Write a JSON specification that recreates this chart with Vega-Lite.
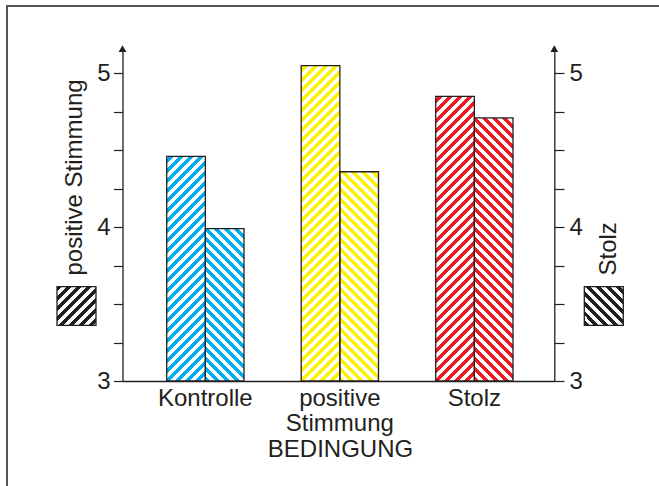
{
  "$schema": "https://vega.github.io/schema/vega-lite/v6.json",
  "width": 652,
  "height": 480,
  "autosize": {"type": "none"},
  "padding": {"left": 7, "top": 6, "right": 0, "bottom": 0},
  "background": "#ffffff",
  "config": {
    "view": {"stroke": "#555555", "strokeWidth": 2, "strokeDash": [652, 1132, 480]},
    "font": "Liberation Sans",
    "axis": {
      "grid": false,
      "domainColor": "#231f20",
      "domainWidth": 1.3,
      "tickColor": "#231f20",
      "tickWidth": 1.2,
      "labelFont": "Liberation Sans",
      "labelFontSize": 24,
      "labelColor": "#231f20",
      "titleFont": "Liberation Sans",
      "titleFontSize": 24,
      "titleFontWeight": "normal",
      "titleColor": "#231f20",
      "labelOverlap": false,
      "labelBound": false,
      "zindex": 1
    }
  },
  "data": {
    "values": [
      {"Bedingung": "Kontrolle", "Skala": "positive Stimmung", "Wert": 4.46},
      {"Bedingung": "Kontrolle", "Skala": "Stolz", "Wert": 3.99},
      {"Bedingung": "positive Stimmung", "Skala": "positive Stimmung", "Wert": 5.05},
      {"Bedingung": "positive Stimmung", "Skala": "Stolz", "Wert": 4.36},
      {"Bedingung": "Stolz", "Skala": "positive Stimmung", "Wert": 4.85},
      {"Bedingung": "Stolz", "Skala": "Stolz", "Wert": 4.71}
    ]
  },
  "layer": [
    {
      "encoding": {
        "x": {
          "field": "Bedingung",
          "type": "nominal",
          "sort": ["Kontrolle", "positive Stimmung", "Stolz"],
          "scale": {"range": [115.5, 547.3], "paddingInner": 0.4253, "paddingOuter": 0.3178, "align": 0.517},
          "axis": {
            "orient": "bottom",
            "offset": -105,
            "ticks": false,
            "tickSize": 0,
            "labelAngle": 0,
            "labelPadding": 5.5,
            "labelLineHeight": 24.5,
            "labelExpr": "datum.value == 'positive Stimmung' ? ['positive', 'Stimmung'] : datum.label",
            "title": "BEDINGUNG",
            "titleX": 333,
            "titleY": 75.7,
            "titleAlign": "center",
            "titleBaseline": "alphabetic"
          }
        },
        "xOffset": {
          "field": "Skala",
          "type": "nominal",
          "sort": ["positive Stimmung", "Stolz"],
          "scale": {"paddingInner": 0, "paddingOuter": 0}
        }
      },
      "layer": [
        {
          "mark": {"type": "bar", "strokeWidth": 0},
          "encoding": {
            "y": {
              "field": "Wert",
              "type": "quantitative",
              "title": "positive Stimmung",
              "scale": {"domain": [3, 5.16], "range": [375, 42.7], "nice": false, "zero": false},
              "axis": {
                "orient": "left",
                "offset": -115.5,
                "values": [3, 3.25, 3.5, 3.75, 4, 4.25, 4.5, 4.75, 5],
                "labelExpr": "datum.value % 1 === 0 ? format(datum.value, 'd') : ''",
                "tickSize": 9,
                "labelPadding": 3.5,
                "title": "positive Stimmung",
                "titleAngle": -90,
                "titleX": -41.5,
                "titleY": 269,
                "titleAlign": "left",
                "titleBaseline": "alphabetic"
              }
            },
            "y2": {"datum": 3},
            "fill": {
              "field": "Bedingung",
              "type": "nominal",
              "scale": {"domain": ["Kontrolle", "positive Stimmung", "Stolz"], "range": ["#00aeef", "#fff200", "#ed1c24"]},
              "legend": null
            }
          }
        },
        {
          "transform": [{"filter": "datum.Skala === 'positive Stimmung'"}],
          "mark": {
            "type": "bar",
            "strokeWidth": 0,
            "fill": {
              "gradient": "linear", "x1": 0, "y1": 0, "x2": 0.17268, "y2": 1.48458,
              "stops": [
{"offset":0,"color":"rgba(255,255,255,0)"},{"offset":0.0095,"color":"rgba(255,255,255,0)"},{"offset":0.0095,"color":"#fff"},{"offset":0.02,"color":"#fff"},
{"offset":0.02,"color":"rgba(255,255,255,0)"},{"offset":0.0295,"color":"rgba(255,255,255,0)"},{"offset":0.0295,"color":"#fff"},{"offset":0.04,"color":"#fff"},
{"offset":0.04,"color":"rgba(255,255,255,0)"},{"offset":0.0495,"color":"rgba(255,255,255,0)"},{"offset":0.0495,"color":"#fff"},{"offset":0.06,"color":"#fff"},
{"offset":0.06,"color":"rgba(255,255,255,0)"},{"offset":0.0695,"color":"rgba(255,255,255,0)"},{"offset":0.0695,"color":"#fff"},{"offset":0.08,"color":"#fff"},
{"offset":0.08,"color":"rgba(255,255,255,0)"},{"offset":0.0895,"color":"rgba(255,255,255,0)"},{"offset":0.0895,"color":"#fff"},{"offset":0.1,"color":"#fff"},
{"offset":0.1,"color":"rgba(255,255,255,0)"},{"offset":0.1095,"color":"rgba(255,255,255,0)"},{"offset":0.1095,"color":"#fff"},{"offset":0.12,"color":"#fff"},
{"offset":0.12,"color":"rgba(255,255,255,0)"},{"offset":0.1295,"color":"rgba(255,255,255,0)"},{"offset":0.1295,"color":"#fff"},{"offset":0.14,"color":"#fff"},
{"offset":0.14,"color":"rgba(255,255,255,0)"},{"offset":0.1495,"color":"rgba(255,255,255,0)"},{"offset":0.1495,"color":"#fff"},{"offset":0.16,"color":"#fff"},
{"offset":0.16,"color":"rgba(255,255,255,0)"},{"offset":0.1695,"color":"rgba(255,255,255,0)"},{"offset":0.1695,"color":"#fff"},{"offset":0.18,"color":"#fff"},
{"offset":0.18,"color":"rgba(255,255,255,0)"},{"offset":0.1895,"color":"rgba(255,255,255,0)"},{"offset":0.1895,"color":"#fff"},{"offset":0.2,"color":"#fff"},
{"offset":0.2,"color":"rgba(255,255,255,0)"},{"offset":0.2095,"color":"rgba(255,255,255,0)"},{"offset":0.2095,"color":"#fff"},{"offset":0.22,"color":"#fff"},
{"offset":0.22,"color":"rgba(255,255,255,0)"},{"offset":0.2295,"color":"rgba(255,255,255,0)"},{"offset":0.2295,"color":"#fff"},{"offset":0.24,"color":"#fff"},
{"offset":0.24,"color":"rgba(255,255,255,0)"},{"offset":0.2495,"color":"rgba(255,255,255,0)"},{"offset":0.2495,"color":"#fff"},{"offset":0.26,"color":"#fff"},
{"offset":0.26,"color":"rgba(255,255,255,0)"},{"offset":0.2695,"color":"rgba(255,255,255,0)"},{"offset":0.2695,"color":"#fff"},{"offset":0.28,"color":"#fff"},
{"offset":0.28,"color":"rgba(255,255,255,0)"},{"offset":0.2895,"color":"rgba(255,255,255,0)"},{"offset":0.2895,"color":"#fff"},{"offset":0.3,"color":"#fff"},
{"offset":0.3,"color":"rgba(255,255,255,0)"},{"offset":0.3095,"color":"rgba(255,255,255,0)"},{"offset":0.3095,"color":"#fff"},{"offset":0.32,"color":"#fff"},
{"offset":0.32,"color":"rgba(255,255,255,0)"},{"offset":0.3295,"color":"rgba(255,255,255,0)"},{"offset":0.3295,"color":"#fff"},{"offset":0.34,"color":"#fff"},
{"offset":0.34,"color":"rgba(255,255,255,0)"},{"offset":0.3495,"color":"rgba(255,255,255,0)"},{"offset":0.3495,"color":"#fff"},{"offset":0.36,"color":"#fff"},
{"offset":0.36,"color":"rgba(255,255,255,0)"},{"offset":0.3695,"color":"rgba(255,255,255,0)"},{"offset":0.3695,"color":"#fff"},{"offset":0.38,"color":"#fff"},
{"offset":0.38,"color":"rgba(255,255,255,0)"},{"offset":0.3895,"color":"rgba(255,255,255,0)"},{"offset":0.3895,"color":"#fff"},{"offset":0.4,"color":"#fff"},
{"offset":0.4,"color":"rgba(255,255,255,0)"},{"offset":0.4095,"color":"rgba(255,255,255,0)"},{"offset":0.4095,"color":"#fff"},{"offset":0.42,"color":"#fff"},
{"offset":0.42,"color":"rgba(255,255,255,0)"},{"offset":0.4295,"color":"rgba(255,255,255,0)"},{"offset":0.4295,"color":"#fff"},{"offset":0.44,"color":"#fff"},
{"offset":0.44,"color":"rgba(255,255,255,0)"},{"offset":0.4495,"color":"rgba(255,255,255,0)"},{"offset":0.4495,"color":"#fff"},{"offset":0.46,"color":"#fff"},
{"offset":0.46,"color":"rgba(255,255,255,0)"},{"offset":0.4695,"color":"rgba(255,255,255,0)"},{"offset":0.4695,"color":"#fff"},{"offset":0.48,"color":"#fff"},
{"offset":0.48,"color":"rgba(255,255,255,0)"},{"offset":0.4895,"color":"rgba(255,255,255,0)"},{"offset":0.4895,"color":"#fff"},{"offset":0.5,"color":"#fff"},
{"offset":0.5,"color":"rgba(255,255,255,0)"},{"offset":0.5095,"color":"rgba(255,255,255,0)"},{"offset":0.5095,"color":"#fff"},{"offset":0.52,"color":"#fff"},
{"offset":0.52,"color":"rgba(255,255,255,0)"},{"offset":0.5295,"color":"rgba(255,255,255,0)"},{"offset":0.5295,"color":"#fff"},{"offset":0.54,"color":"#fff"},
{"offset":0.54,"color":"rgba(255,255,255,0)"},{"offset":0.5495,"color":"rgba(255,255,255,0)"},{"offset":0.5495,"color":"#fff"},{"offset":0.56,"color":"#fff"},
{"offset":0.56,"color":"rgba(255,255,255,0)"},{"offset":0.5695,"color":"rgba(255,255,255,0)"},{"offset":0.5695,"color":"#fff"},{"offset":0.58,"color":"#fff"},
{"offset":0.58,"color":"rgba(255,255,255,0)"},{"offset":0.5895,"color":"rgba(255,255,255,0)"},{"offset":0.5895,"color":"#fff"},{"offset":0.6,"color":"#fff"},
{"offset":0.6,"color":"rgba(255,255,255,0)"},{"offset":0.6095,"color":"rgba(255,255,255,0)"},{"offset":0.6095,"color":"#fff"},{"offset":0.62,"color":"#fff"},
{"offset":0.62,"color":"rgba(255,255,255,0)"},{"offset":0.6295,"color":"rgba(255,255,255,0)"},{"offset":0.6295,"color":"#fff"},{"offset":0.64,"color":"#fff"},
{"offset":0.64,"color":"rgba(255,255,255,0)"},{"offset":0.6495,"color":"rgba(255,255,255,0)"},{"offset":0.6495,"color":"#fff"},{"offset":0.66,"color":"#fff"},
{"offset":0.66,"color":"rgba(255,255,255,0)"},{"offset":0.6695,"color":"rgba(255,255,255,0)"},{"offset":0.6695,"color":"#fff"},{"offset":0.68,"color":"#fff"},
{"offset":0.68,"color":"rgba(255,255,255,0)"},{"offset":0.6895,"color":"rgba(255,255,255,0)"},{"offset":0.6895,"color":"#fff"},{"offset":0.7,"color":"#fff"},
{"offset":0.7,"color":"rgba(255,255,255,0)"},{"offset":0.7095,"color":"rgba(255,255,255,0)"},{"offset":0.7095,"color":"#fff"},{"offset":0.72,"color":"#fff"},
{"offset":0.72,"color":"rgba(255,255,255,0)"},{"offset":0.7295,"color":"rgba(255,255,255,0)"},{"offset":0.7295,"color":"#fff"},{"offset":0.74,"color":"#fff"},
{"offset":0.74,"color":"rgba(255,255,255,0)"},{"offset":0.7495,"color":"rgba(255,255,255,0)"},{"offset":0.7495,"color":"#fff"},{"offset":0.76,"color":"#fff"}
              ]
            }
          },
          "encoding": {
            "y": {"datum": 5.16, "type": "quantitative", "title": "positive Stimmung"},
            "y2": {"datum": 3}
          }
        },
        {
          "transform": [{"filter": "datum.Skala === 'Stolz'"}],
          "mark": {
            "type": "bar",
            "strokeWidth": 0,
            "fill": {
              "gradient": "linear", "x1": 0, "y1": 1, "x2": 0.17268, "y2": -0.48458,
              "stops": [
{"offset":0,"color":"rgba(255,255,255,0)"},{"offset":0.0095,"color":"rgba(255,255,255,0)"},{"offset":0.0095,"color":"#fff"},{"offset":0.02,"color":"#fff"},
{"offset":0.02,"color":"rgba(255,255,255,0)"},{"offset":0.0295,"color":"rgba(255,255,255,0)"},{"offset":0.0295,"color":"#fff"},{"offset":0.04,"color":"#fff"},
{"offset":0.04,"color":"rgba(255,255,255,0)"},{"offset":0.0495,"color":"rgba(255,255,255,0)"},{"offset":0.0495,"color":"#fff"},{"offset":0.06,"color":"#fff"},
{"offset":0.06,"color":"rgba(255,255,255,0)"},{"offset":0.0695,"color":"rgba(255,255,255,0)"},{"offset":0.0695,"color":"#fff"},{"offset":0.08,"color":"#fff"},
{"offset":0.08,"color":"rgba(255,255,255,0)"},{"offset":0.0895,"color":"rgba(255,255,255,0)"},{"offset":0.0895,"color":"#fff"},{"offset":0.1,"color":"#fff"},
{"offset":0.1,"color":"rgba(255,255,255,0)"},{"offset":0.1095,"color":"rgba(255,255,255,0)"},{"offset":0.1095,"color":"#fff"},{"offset":0.12,"color":"#fff"},
{"offset":0.12,"color":"rgba(255,255,255,0)"},{"offset":0.1295,"color":"rgba(255,255,255,0)"},{"offset":0.1295,"color":"#fff"},{"offset":0.14,"color":"#fff"},
{"offset":0.14,"color":"rgba(255,255,255,0)"},{"offset":0.1495,"color":"rgba(255,255,255,0)"},{"offset":0.1495,"color":"#fff"},{"offset":0.16,"color":"#fff"},
{"offset":0.16,"color":"rgba(255,255,255,0)"},{"offset":0.1695,"color":"rgba(255,255,255,0)"},{"offset":0.1695,"color":"#fff"},{"offset":0.18,"color":"#fff"},
{"offset":0.18,"color":"rgba(255,255,255,0)"},{"offset":0.1895,"color":"rgba(255,255,255,0)"},{"offset":0.1895,"color":"#fff"},{"offset":0.2,"color":"#fff"},
{"offset":0.2,"color":"rgba(255,255,255,0)"},{"offset":0.2095,"color":"rgba(255,255,255,0)"},{"offset":0.2095,"color":"#fff"},{"offset":0.22,"color":"#fff"},
{"offset":0.22,"color":"rgba(255,255,255,0)"},{"offset":0.2295,"color":"rgba(255,255,255,0)"},{"offset":0.2295,"color":"#fff"},{"offset":0.24,"color":"#fff"},
{"offset":0.24,"color":"rgba(255,255,255,0)"},{"offset":0.2495,"color":"rgba(255,255,255,0)"},{"offset":0.2495,"color":"#fff"},{"offset":0.26,"color":"#fff"},
{"offset":0.26,"color":"rgba(255,255,255,0)"},{"offset":0.2695,"color":"rgba(255,255,255,0)"},{"offset":0.2695,"color":"#fff"},{"offset":0.28,"color":"#fff"},
{"offset":0.28,"color":"rgba(255,255,255,0)"},{"offset":0.2895,"color":"rgba(255,255,255,0)"},{"offset":0.2895,"color":"#fff"},{"offset":0.3,"color":"#fff"},
{"offset":0.3,"color":"rgba(255,255,255,0)"},{"offset":0.3095,"color":"rgba(255,255,255,0)"},{"offset":0.3095,"color":"#fff"},{"offset":0.32,"color":"#fff"},
{"offset":0.32,"color":"rgba(255,255,255,0)"},{"offset":0.3295,"color":"rgba(255,255,255,0)"},{"offset":0.3295,"color":"#fff"},{"offset":0.34,"color":"#fff"},
{"offset":0.34,"color":"rgba(255,255,255,0)"},{"offset":0.3495,"color":"rgba(255,255,255,0)"},{"offset":0.3495,"color":"#fff"},{"offset":0.36,"color":"#fff"},
{"offset":0.36,"color":"rgba(255,255,255,0)"},{"offset":0.3695,"color":"rgba(255,255,255,0)"},{"offset":0.3695,"color":"#fff"},{"offset":0.38,"color":"#fff"},
{"offset":0.38,"color":"rgba(255,255,255,0)"},{"offset":0.3895,"color":"rgba(255,255,255,0)"},{"offset":0.3895,"color":"#fff"},{"offset":0.4,"color":"#fff"},
{"offset":0.4,"color":"rgba(255,255,255,0)"},{"offset":0.4095,"color":"rgba(255,255,255,0)"},{"offset":0.4095,"color":"#fff"},{"offset":0.42,"color":"#fff"},
{"offset":0.42,"color":"rgba(255,255,255,0)"},{"offset":0.4295,"color":"rgba(255,255,255,0)"},{"offset":0.4295,"color":"#fff"},{"offset":0.44,"color":"#fff"},
{"offset":0.44,"color":"rgba(255,255,255,0)"},{"offset":0.4495,"color":"rgba(255,255,255,0)"},{"offset":0.4495,"color":"#fff"},{"offset":0.46,"color":"#fff"},
{"offset":0.46,"color":"rgba(255,255,255,0)"},{"offset":0.4695,"color":"rgba(255,255,255,0)"},{"offset":0.4695,"color":"#fff"},{"offset":0.48,"color":"#fff"},
{"offset":0.48,"color":"rgba(255,255,255,0)"},{"offset":0.4895,"color":"rgba(255,255,255,0)"},{"offset":0.4895,"color":"#fff"},{"offset":0.5,"color":"#fff"},
{"offset":0.5,"color":"rgba(255,255,255,0)"},{"offset":0.5095,"color":"rgba(255,255,255,0)"},{"offset":0.5095,"color":"#fff"},{"offset":0.52,"color":"#fff"},
{"offset":0.52,"color":"rgba(255,255,255,0)"},{"offset":0.5295,"color":"rgba(255,255,255,0)"},{"offset":0.5295,"color":"#fff"},{"offset":0.54,"color":"#fff"},
{"offset":0.54,"color":"rgba(255,255,255,0)"},{"offset":0.5495,"color":"rgba(255,255,255,0)"},{"offset":0.5495,"color":"#fff"},{"offset":0.56,"color":"#fff"},
{"offset":0.56,"color":"rgba(255,255,255,0)"},{"offset":0.5695,"color":"rgba(255,255,255,0)"},{"offset":0.5695,"color":"#fff"},{"offset":0.58,"color":"#fff"},
{"offset":0.58,"color":"rgba(255,255,255,0)"},{"offset":0.5895,"color":"rgba(255,255,255,0)"},{"offset":0.5895,"color":"#fff"},{"offset":0.6,"color":"#fff"},
{"offset":0.6,"color":"rgba(255,255,255,0)"},{"offset":0.6095,"color":"rgba(255,255,255,0)"},{"offset":0.6095,"color":"#fff"},{"offset":0.62,"color":"#fff"},
{"offset":0.62,"color":"rgba(255,255,255,0)"},{"offset":0.6295,"color":"rgba(255,255,255,0)"},{"offset":0.6295,"color":"#fff"},{"offset":0.64,"color":"#fff"},
{"offset":0.64,"color":"rgba(255,255,255,0)"},{"offset":0.6495,"color":"rgba(255,255,255,0)"},{"offset":0.6495,"color":"#fff"},{"offset":0.66,"color":"#fff"},
{"offset":0.66,"color":"rgba(255,255,255,0)"},{"offset":0.6695,"color":"rgba(255,255,255,0)"},{"offset":0.6695,"color":"#fff"},{"offset":0.68,"color":"#fff"},
{"offset":0.68,"color":"rgba(255,255,255,0)"},{"offset":0.6895,"color":"rgba(255,255,255,0)"},{"offset":0.6895,"color":"#fff"},{"offset":0.7,"color":"#fff"},
{"offset":0.7,"color":"rgba(255,255,255,0)"},{"offset":0.7095,"color":"rgba(255,255,255,0)"},{"offset":0.7095,"color":"#fff"},{"offset":0.72,"color":"#fff"},
{"offset":0.72,"color":"rgba(255,255,255,0)"},{"offset":0.7295,"color":"rgba(255,255,255,0)"},{"offset":0.7295,"color":"#fff"},{"offset":0.74,"color":"#fff"},
{"offset":0.74,"color":"rgba(255,255,255,0)"},{"offset":0.7495,"color":"rgba(255,255,255,0)"},{"offset":0.7495,"color":"#fff"},{"offset":0.76,"color":"#fff"}
              ]
            }
          },
          "encoding": {
            "y": {"datum": 5.16, "type": "quantitative", "title": "positive Stimmung"},
            "y2": {"datum": 3}
          }
        },
        {
          "mark": {"type": "bar", "fill": "transparent", "stroke": "#231f20", "strokeWidth": 1.3},
          "encoding": {
            "y": {"field": "Wert", "type": "quantitative", "title": "positive Stimmung"},
            "y2": {"datum": 3}
          }
        }
      ]
    },
    {
      "data": {"values": [{}]},
      "layer": [
        {
          "mark": {"type": "point", "shape": "triangle-up", "filled": true, "fill": "#231f20", "size": 60, "opacity": 1, "strokeWidth": 0},
          "encoding": {
            "x": {"datum": 0, "type": "quantitative", "scale": {"domain": [0, 1], "range": [115.5, 547.3], "nice": false, "zero": false}, "axis": null},
            "y": {
              "datum": 5.16,
              "type": "quantitative",
              "title": "Stolz",
              "scale": {"domain": [3, 5.16], "range": [375, 42.7], "nice": false, "zero": false},
              "axis": {
                "orient": "right",
                "offset": -104.7,
                "values": [3, 3.25, 3.5, 3.75, 4, 4.25, 4.5, 4.75, 5],
                "labelExpr": "datum.value % 1 === 0 ? format(datum.value, 'd') : ''",
                "tickSize": 9.7,
                "labelPadding": 5,
                "title": "Stolz",
                "titleAngle": -90,
                "titleX": 60.7,
                "titleY": 269,
                "titleAlign": "left",
                "titleBaseline": "alphabetic"
              }
            }
          }
        },
        {
          "mark": {"type": "point", "shape": "triangle-up", "filled": true, "fill": "#231f20", "size": 60, "opacity": 1, "strokeWidth": 0},
          "encoding": {
            "x": {"datum": 1, "type": "quantitative", "axis": null},
            "y": {"datum": 5.16, "type": "quantitative", "title": "Stolz"}
          }
        },
        {
          "mark": {
            "type": "rect",
            "stroke": "#231f20",
            "strokeWidth": 1.3,
            "fill": {
              "gradient": "linear", "x1": 0, "y1": 0, "x2": 6.476, "y2": 6.41,
              "stops": [
{"offset":0,"color":"#231f20"},{"offset":0.01,"color":"#231f20"},{"offset":0.01,"color":"#fff"},{"offset":0.02,"color":"#fff"},
{"offset":0.02,"color":"#231f20"},{"offset":0.03,"color":"#231f20"},{"offset":0.03,"color":"#fff"},{"offset":0.04,"color":"#fff"},
{"offset":0.04,"color":"#231f20"},{"offset":0.05,"color":"#231f20"},{"offset":0.05,"color":"#fff"},{"offset":0.06,"color":"#fff"},
{"offset":0.06,"color":"#231f20"},{"offset":0.07,"color":"#231f20"},{"offset":0.07,"color":"#fff"},{"offset":0.08,"color":"#fff"},
{"offset":0.08,"color":"#231f20"},{"offset":0.09,"color":"#231f20"},{"offset":0.09,"color":"#fff"},{"offset":0.1,"color":"#fff"},
{"offset":0.1,"color":"#231f20"},{"offset":0.11,"color":"#231f20"},{"offset":0.11,"color":"#fff"},{"offset":0.12,"color":"#fff"},
{"offset":0.12,"color":"#231f20"},{"offset":0.13,"color":"#231f20"},{"offset":0.13,"color":"#fff"},{"offset":0.14,"color":"#fff"},
{"offset":0.14,"color":"#231f20"},{"offset":0.15,"color":"#231f20"},{"offset":0.15,"color":"#fff"},{"offset":0.16,"color":"#fff"},
{"offset":0.16,"color":"#231f20"},{"offset":0.17,"color":"#231f20"},{"offset":0.17,"color":"#fff"},{"offset":0.18,"color":"#fff"}
              ]
            }
          },
          "encoding": {
            "x": {"datum": -0.1517, "type": "quantitative", "axis": null},
            "x2": {"datum": -0.0614},
            "y": {"datum": 3.6129, "type": "quantitative", "title": "Stolz"},
            "y2": {"datum": 3.362}
          }
        },
        {
          "mark": {
            "type": "rect",
            "stroke": "#231f20",
            "strokeWidth": 1.3,
            "fill": {
              "gradient": "linear", "x1": 0, "y1": 1, "x2": 6.476, "y2": -5.41,
              "stops": [
{"offset":0,"color":"#231f20"},{"offset":0.01,"color":"#231f20"},{"offset":0.01,"color":"#fff"},{"offset":0.02,"color":"#fff"},
{"offset":0.02,"color":"#231f20"},{"offset":0.03,"color":"#231f20"},{"offset":0.03,"color":"#fff"},{"offset":0.04,"color":"#fff"},
{"offset":0.04,"color":"#231f20"},{"offset":0.05,"color":"#231f20"},{"offset":0.05,"color":"#fff"},{"offset":0.06,"color":"#fff"},
{"offset":0.06,"color":"#231f20"},{"offset":0.07,"color":"#231f20"},{"offset":0.07,"color":"#fff"},{"offset":0.08,"color":"#fff"},
{"offset":0.08,"color":"#231f20"},{"offset":0.09,"color":"#231f20"},{"offset":0.09,"color":"#fff"},{"offset":0.1,"color":"#fff"},
{"offset":0.1,"color":"#231f20"},{"offset":0.11,"color":"#231f20"},{"offset":0.11,"color":"#fff"},{"offset":0.12,"color":"#fff"},
{"offset":0.12,"color":"#231f20"},{"offset":0.13,"color":"#231f20"},{"offset":0.13,"color":"#fff"},{"offset":0.14,"color":"#fff"},
{"offset":0.14,"color":"#231f20"},{"offset":0.15,"color":"#231f20"},{"offset":0.15,"color":"#fff"},{"offset":0.16,"color":"#fff"},
{"offset":0.16,"color":"#231f20"},{"offset":0.17,"color":"#231f20"},{"offset":0.17,"color":"#fff"},{"offset":0.18,"color":"#fff"}
              ]
            }
          },
          "encoding": {
            "x": {"datum": 1.0695, "type": "quantitative", "axis": null},
            "x2": {"datum": 1.1598},
            "y": {"datum": 3.6129, "type": "quantitative", "title": "Stolz"},
            "y2": {"datum": 3.362}
          }
        }
      ]
    }
  ],
  "resolve": {"scale": {"x": "independent", "y": "independent"}}
}
